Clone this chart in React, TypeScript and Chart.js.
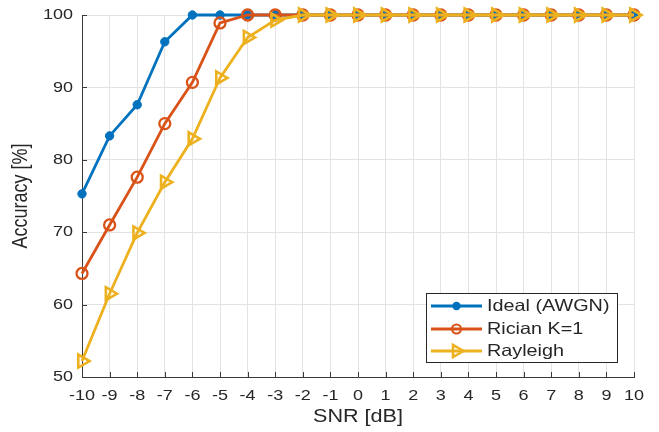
import React, { useEffect, useRef } from "react";
import { Chart, registerables } from "chart.js";

Chart.register(...registerables);

const snrDb = [-10, -9, -8, -7, -6, -5, -4, -3, -2, -1, 0, 1, 2, 3, 4, 5, 6, 7, 8, 9, 10];
const idealAcc = [75.3, 83.3, 87.6, 96.3, 100, 100, 100, 100, 100, 100, 100, 100, 100, 100, 100, 100, 100, 100, 100, 100, 100];
const ricianAcc = [64.3, 71.0, 77.6, 85.0, 90.7, 98.9, 100, 100, 100, 100, 100, 100, 100, 100, 100, 100, 100, 100, 100, 100, 100];
const rayleighAcc = [52.2, 61.5, 69.9, 76.9, 82.9, 91.3, 96.9, 99.3, 100, 100, 100, 100, 100, 100, 100, 100, 100, 100, 100, 100, 100];
const seriesNames = ["Ideal (AWGN)", "Rician K=1", "Rayleigh"];
const seriesColors = ["#0072BD", "#D95319", "#EDB120"];
const xTitle = "SNR [dB]";
const yTitle = "Accuracy [%]";

const FONT = "'Liberation Sans', Arial, Helvetica, sans-serif";
const SX = 1.2;
const TEXT = "#262626";

function sText(ctx: CanvasRenderingContext2D, text: string, x: number, y: number, align: CanvasTextAlign, size: number, rot = 0) {
  ctx.save();
  ctx.translate(x, y);
  ctx.scale(SX, 1);
  if (rot) ctx.rotate(rot);
  ctx.font = `${size}px ${FONT}`;
  ctx.fillStyle = TEXT;
  ctx.textAlign = align;
  ctx.textBaseline = "middle";
  ctx.fillText(text, 0, 0);
  ctx.restore();
}

function marker(ctx: CanvasRenderingContext2D, kind: number, x: number, y: number, color: string) {
  ctx.save();
  ctx.strokeStyle = color;
  ctx.fillStyle = color;
  if (kind === 0) {
    ctx.beginPath();
    ctx.arc(x, y, 4.2, 0, Math.PI * 2);
    ctx.fill();
  } else if (kind === 1) {
    ctx.lineWidth = 2.2;
    ctx.beginPath();
    ctx.arc(x, y, 4.5, 0, Math.PI * 2);
    ctx.stroke();
  } else {
    ctx.lineWidth = 2.5;
    const r = 7;
    ctx.beginPath();
    for (let i = 0; i < 3; i++) {
      const a = (i * 2 * Math.PI) / 3;
      const px = x + Math.cos(a) * r;
      const py = y + Math.sin(a) * r;
      if (i === 0) ctx.moveTo(px, py);
      else ctx.lineTo(px, py);
    }
    ctx.closePath();
    ctx.stroke();
  }
  ctx.restore();
}

const decorPlugin = {
  id: "decor",
  afterDraw(chart: any) {
    const ctx: CanvasRenderingContext2D = chart.ctx;
    const { left, right, top, bottom } = chart.chartArea;
    const xs = chart.scales.x;
    const ys = chart.scales.y;
    ctx.save();
    ctx.strokeStyle = "#3a3a3a";
    ctx.lineWidth = 1;
    ctx.beginPath();
    xs.ticks.forEach((t: any) => {
      const px = Math.round(xs.getPixelForValue(t.value)) + 0.5;
      ctx.moveTo(px, bottom);
      ctx.lineTo(px, bottom - 5);
    });
    ys.ticks.forEach((t: any) => {
      const py = Math.round(ys.getPixelForValue(t.value)) + 0.5;
      ctx.moveTo(left, py);
      ctx.lineTo(left + 5, py);
    });
    ctx.stroke();
    ctx.restore();
    xs.ticks.forEach((t: any) => {
      sText(ctx, String(t.value), xs.getPixelForValue(t.value), bottom + 19, "center", 15);
    });
    ys.ticks.forEach((t: any) => {
      sText(ctx, String(t.value), left - 9, ys.getPixelForValue(t.value), "right", 15);
    });
    sText(ctx, xTitle, (left + right) / 2, bottom + 40, "center", 18);
    sText(ctx, yTitle, 21, (top + bottom) / 2, "center", 18, -Math.PI / 2);
    const bx = 426.5, by = 293.5, bw = 191, bh = 69;
    ctx.save();
    ctx.fillStyle = "#ffffff";
    ctx.fillRect(bx, by, bw, bh);
    ctx.strokeStyle = "#262626";
    ctx.lineWidth = 1;
    ctx.strokeRect(bx, by, bw, bh);
    ctx.restore();
    const rows = [306, 329, 351];
    seriesNames.forEach((name, i) => {
      const yy = rows[i];
      ctx.save();
      ctx.strokeStyle = seriesColors[i];
      ctx.lineWidth = 2.8;
      ctx.beginPath();
      ctx.moveTo(431, yy);
      ctx.lineTo(482, yy);
      ctx.stroke();
      ctx.restore();
      marker(ctx, i, 456.5, yy, seriesColors[i]);
      sText(ctx, name, 487, yy, "left", 16.5);
    });
  },
};

export default function App() {
  const ref = useRef<HTMLCanvasElement | null>(null);
  useEffect(() => {
    if (!ref.current) return;
    const mk = (vals: number[]) => snrDb.map((x, i) => ({ x, y: vals[i] }));
    const chart = new Chart(ref.current, {
      type: "line",
      data: {
        datasets: [
          {
            label: seriesNames[0],
            data: mk(idealAcc),
            borderColor: seriesColors[0],
            backgroundColor: seriesColors[0],
            borderWidth: 2.8,
            pointStyle: "circle",
            pointRadius: 4.2,
            pointBorderWidth: 1,
            pointBackgroundColor: seriesColors[0],
            pointBorderColor: seriesColors[0],
            order: 3,
            clip: false,
          },
          {
            label: seriesNames[1],
            data: mk(ricianAcc),
            borderColor: seriesColors[1],
            backgroundColor: seriesColors[1],
            borderWidth: 2.8,
            pointStyle: "circle",
            pointRadius: 5.5,
            pointBorderWidth: 2.3,
            pointBackgroundColor: "rgba(0,0,0,0)",
            pointBorderColor: seriesColors[1],
            order: 2,
            clip: false,
          },
          {
            label: seriesNames[2],
            data: mk(rayleighAcc),
            borderColor: seriesColors[2],
            backgroundColor: seriesColors[2],
            borderWidth: 2.8,
            pointStyle: "triangle",
            pointRotation: 90,
            pointRadius: 7.5,
            pointBorderWidth: 2.6,
            pointBackgroundColor: "rgba(0,0,0,0)",
            pointBorderColor: seriesColors[2],
            order: 1,
            clip: false,
          },
        ],
      },
      options: {
        animation: false,
        responsive: true,
        maintainAspectRatio: false,
        layout: { padding: { top: 15, right: 25, left: 0, bottom: 0 } },
        plugins: { legend: { display: false }, tooltip: { enabled: false } },
        elements: { line: { tension: 0 } },
        scales: {
          x: {
            type: "linear",
            min: -10,
            max: 10,
            ticks: { stepSize: 1, display: false },
            grid: { color: "#e3e3e3", lineWidth: 1, drawTicks: false },
            border: { display: true, color: "#3a3a3a", width: 1 },
            afterFit: (s: any) => { s.height = 55; },
          },
          y: {
            type: "linear",
            min: 50,
            max: 100,
            ticks: { stepSize: 10, display: false },
            grid: { color: "#e3e3e3", lineWidth: 1, drawTicks: false },
            border: { display: true, color: "#3a3a3a", width: 1 },
            afterFit: (s: any) => { s.width = 82; },
          },
        },
      },
      plugins: [decorPlugin],
    } as any);
    return () => chart.destroy();
  }, []);
  return (
    <div style={{ position: "fixed", left: 0, top: 0, width: 659, height: 432, background: "#fff" }}>
      <canvas ref={ref} />
    </div>
  );
}
